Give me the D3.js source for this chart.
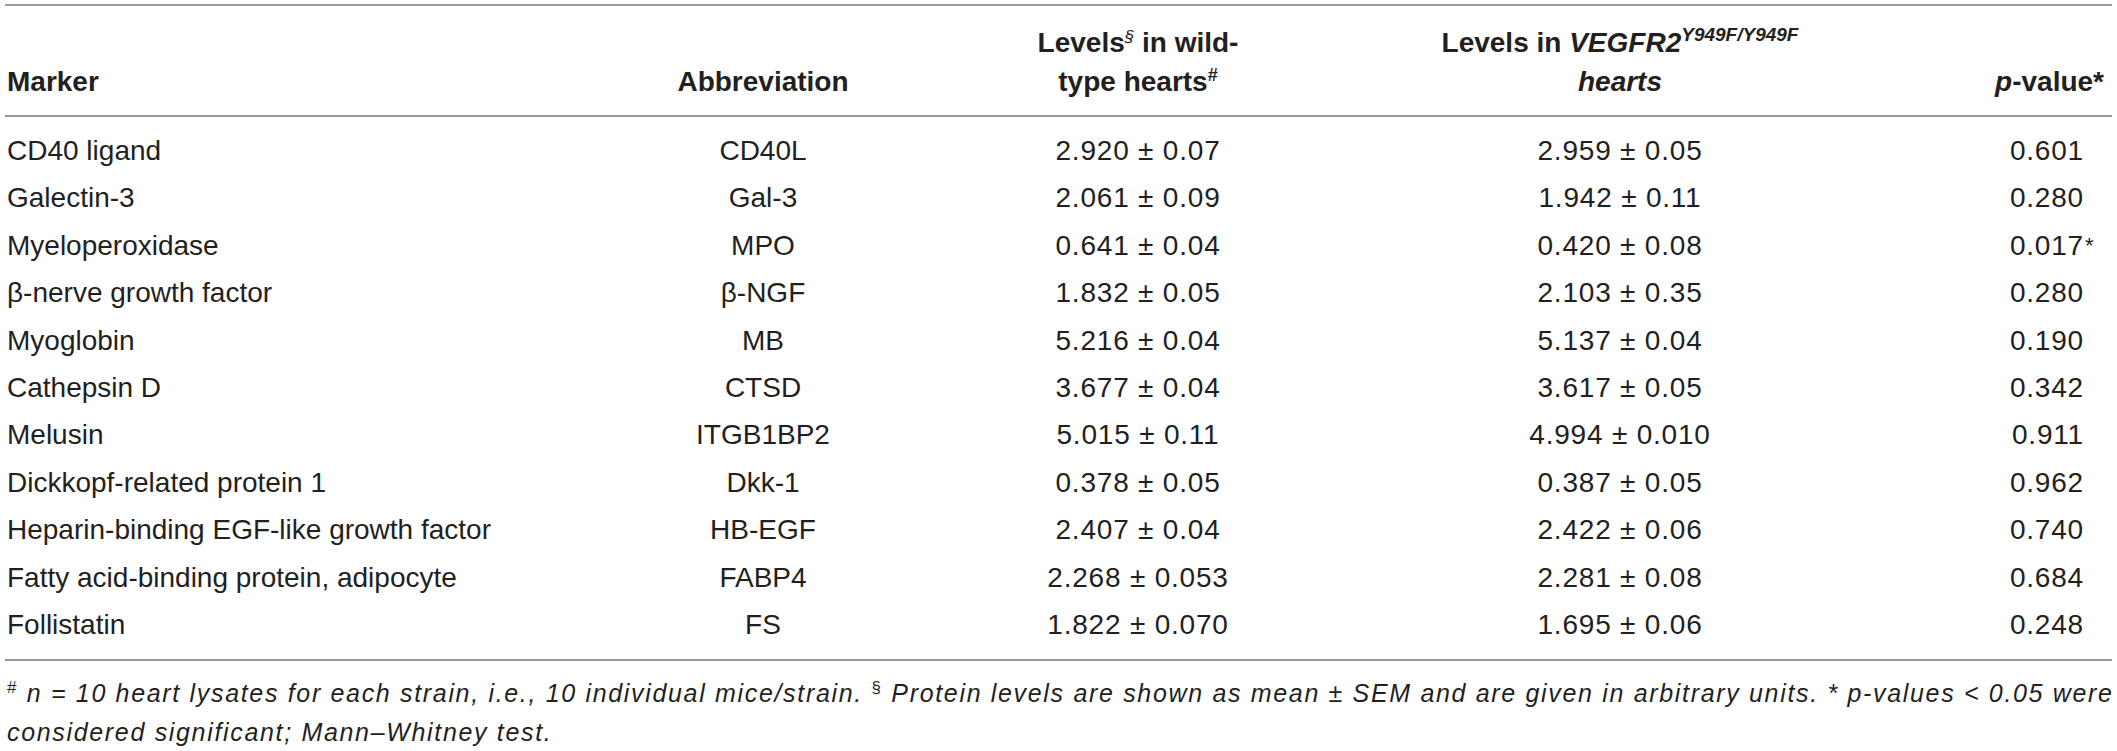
<!DOCTYPE html>
<html>
<head>
<meta charset="utf-8">
<script src="https://cdn.jsdelivr.net/npm/d3@7/dist/d3.min.js"></script>
<style>
  html, body { margin: 0; padding: 0; background: #fff; }
  text { font-family: "Liberation Sans", Arial, sans-serif; fill: #231f20; }
</style>
</head>
<body>
<div id="table"></div>
<script>
const width = 2117;
const height = 751;

// table content
const markers = ["CD40 ligand", "Galectin-3", "Myeloperoxidase", "β-nerve growth factor", "Myoglobin",
  "Cathepsin D", "Melusin", "Dickkopf-related protein 1", "Heparin-binding EGF-like growth factor",
  "Fatty acid-binding protein, adipocyte", "Follistatin"];
const abbreviations = ["CD40L", "Gal-3", "MPO", "β-NGF", "MB", "CTSD", "ITGB1BP2", "Dkk-1", "HB-EGF", "FABP4", "FS"];
const wtMean = ["2.920", "2.061", "0.641", "1.832", "5.216", "3.677", "5.015", "0.378", "2.407", "2.268", "1.822"];
const wtSem = ["0.07", "0.09", "0.04", "0.05", "0.04", "0.04", "0.11", "0.05", "0.04", "0.053", "0.070"];
const mutMean = ["2.959", "1.942", "0.420", "2.103", "5.137", "3.617", "4.994", "0.387", "2.422", "2.281", "1.695"];
const mutSem = ["0.05", "0.11", "0.08", "0.35", "0.04", "0.05", "0.010", "0.05", "0.06", "0.08", "0.06"];
const pValues = ["0.601", "0.280", "0.017", "0.280", "0.190", "0.342", "0.911", "0.962", "0.740", "0.684", "0.248"];
const pFlags = ["", "", "*", "", "", "", "", "", "", "", ""];

const columns = ["marker", "abbr", "wt", "mut", "p"];
const footLine1 = " n = 10 heart lysates for each strain, i.e., 10 individual mice/strain. ";
const footLine1b = " Protein levels are shown as mean ± SEM and are given in arbitrary units. * p-values < 0.05 were";
const footLine2 = "considered significant; Mann–Whitney test.";

const rows = markers.map((m, i) => ({
  marker: m,
  abbr: abbreviations[i],
  wt: `${wtMean[i]} ± ${wtSem[i]}`,
  mut: `${mutMean[i]} ± ${mutSem[i]}`,
  p: pValues[i],
  flag: pFlags[i]
}));

const svg = d3.select("#table")
  .append("svg")
  .attr("width", width)
  .attr("height", height);

// row and column positions
const y = d3.scalePoint()
  .domain(markers)
  .range([160, 634]);

const x = d3.scaleOrdinal()
  .domain(columns)
  .range([7, 763, 1138, 1620, 2084]);

const anchor = d3.scaleOrdinal()
  .domain(columns)
  .range(["start", "middle", "middle", "middle", "end"]);

// rules
const rules = [5, 116, 660];
svg.append("g")
  .selectAll("line")
  .data(rules)
  .join("line")
  .attr("x1", 5)
  .attr("x2", 2112)
  .attr("y1", d => d)
  .attr("y2", d => d)
  .attr("stroke", "#9a9a9a")
  .attr("stroke-width", 2);

// header
const head = svg.append("g")
  .attr("font-weight", "bold")
  .style("font-size", "28px");

head.append("text").attr("x", x("marker")).attr("y", 91).text("Marker");
head.append("text").attr("x", x("abbr")).attr("y", 91).attr("text-anchor", "middle").text("Abbreviation");

const wt1 = head.append("text").attr("x", x("wt")).attr("y", 52).attr("text-anchor", "middle");
wt1.append("tspan").text("Levels");
wt1.append("tspan").attr("dy", -10).style("font-size", "17px").attr("font-weight", "normal")
  .attr("font-style", "italic").text("§");
wt1.append("tspan").attr("dy", 10).text(" in wild-");
const wt2 = head.append("text").attr("x", x("wt")).attr("y", 91).attr("text-anchor", "middle");
wt2.append("tspan").text("type hearts");
wt2.append("tspan").attr("dy", -10).style("font-size", "18px").text("#");

const mut1 = head.append("text").attr("x", x("mut")).attr("y", 52).attr("text-anchor", "middle");
mut1.append("tspan").text("Levels in ");
mut1.append("tspan").attr("font-style", "italic").text("VEGFR2");
mut1.append("tspan").attr("dy", -11).attr("font-style", "italic").style("font-size", "19px")
  .text("Y949F/Y949F");
head.append("text").attr("x", x("mut")).attr("y", 91).attr("text-anchor", "middle")
  .attr("font-style", "italic").text("hearts");

const ph = head.append("text").attr("x", 2104).attr("y", 91).attr("text-anchor", "end");
ph.append("tspan").attr("font-style", "italic").text("p");
ph.append("tspan").text("-value*");

// body cells
const body = svg.append("g").style("font-size", "28px");

const cells = rows.flatMap(r => columns.map(c => ({ row: r.marker, col: c, value: r[c] })));

body.selectAll("text.cell")
  .data(cells)
  .join("text")
  .attr("class", "cell")
  .attr("x", d => x(d.col))
  .attr("y", d => y(d.row))
  .attr("text-anchor", d => anchor(d.col))
  .style("letter-spacing", d => (d.col === "wt" || d.col === "mut" || d.col === "p") ? "0.8px" : null)
  .text(d => d.value);

body.selectAll("text.flag")
  .data(rows.filter(r => r.flag))
  .join("text")
  .attr("class", "flag")
  .attr("x", x("p") + 1)
  .attr("y", d => y(d.marker) - 2)
  .style("font-size", "22px")
  .text(d => d.flag);

// footnote
const foot = svg.append("g").attr("font-style", "italic").style("font-size", "25px");
const f1 = foot.append("text").attr("x", 7).attr("y", 702);
f1.append("tspan").attr("dy", -9).style("font-size", "17px").attr("font-style", "normal").text("#");
f1.append("tspan").attr("dy", 9).text(footLine1);
f1.append("tspan").attr("dy", -9).style("font-size", "17px").attr("font-style", "normal").text("§");
f1.append("tspan").attr("dy", 9).text(footLine1b);

// stretch the first footnote line to the table width
const natural = f1.node().getComputedTextLength();
const nChars = f1.text().length;
const ls = Math.max(0, (2105 - natural) / (nChars - 1));
f1.style("letter-spacing", ls + "px");

foot.append("text").attr("x", 7).attr("y", 741)
  .style("letter-spacing", ls + "px")
  .text(footLine2);
</script>
</body>
</html>
